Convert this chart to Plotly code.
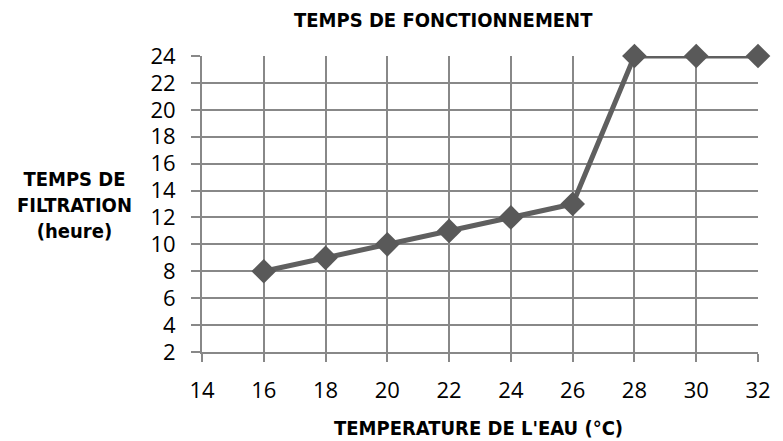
import plotly.graph_objects as go

temperature = [16, 18, 20, 22, 24, 26, 28, 30, 32]
hours = [8, 9, 10, 11, 12, 13, 24, 24, 24]
x_ticks = [14, 16, 18, 20, 22, 24, 26, 28, 30, 32]
y_ticks = [2, 4, 6, 8, 10, 12, 14, 16, 18, 20, 22, 24]

title_font = dict(family="DejaVu Sans Condensed, Liberation Sans Narrow, Arial", size=20, color="black")
tick_font = dict(family="Open Sans, Noto Sans", size=22, color="black")

fig = go.Figure()
fig.add_trace(go.Scatter(
    x=temperature, y=hours, mode="lines+markers",
    line=dict(color="#5f5f5f", width=5),
    marker=dict(symbol="diamond", size=19, color="#595959"),
    showlegend=False, cliponaxis=False,
))

fig.update_layout(
    width=775, height=433,
    margin=dict(l=194, r=17, t=48, b=89),
    plot_bgcolor="white", paper_bgcolor="white",
    xaxis=dict(range=[14, 32], tickvals=x_ticks, showgrid=True, gridcolor="#888888", gridwidth=2,
               showline=True, linecolor="#888888", linewidth=2, ticks="outside", ticklen=8,
               tickcolor="#888888", tickwidth=2, tickfont=tick_font, zeroline=False,
               ticklabelstandoff=10),
    yaxis=dict(range=[2, 24], tickvals=y_ticks, showgrid=True, gridcolor="#888888", gridwidth=2,
               showline=True, linecolor="#888888", linewidth=2, ticks="outside", ticklen=9,
               tickcolor="#888888", tickwidth=2, tickfont=tick_font, zeroline=False,
               ticklabelstandoff=11),
    annotations=[
        dict(text="<b>TEMPS DE FONCTIONNEMENT</b>", xref="paper", yref="paper",
             x=0.434, y=1.1216, xanchor="center", yanchor="middle", showarrow=False, font=title_font),
        dict(text="<b>TEMPERATURE DE L'EAU (°C)</b>", xref="paper", yref="paper",
             x=0.498, y=-0.258, xanchor="center", yanchor="middle", showarrow=False, font=title_font),
        dict(text="<b>TEMPS DE<br>FILTRATION<br>(heure)</b>", xref="paper", yref="paper",
             x=-0.2287, y=0.4966, xanchor="center", yanchor="middle", showarrow=False,
             align="center", font=title_font),
    ],
)

fig.write_html("out.html")
